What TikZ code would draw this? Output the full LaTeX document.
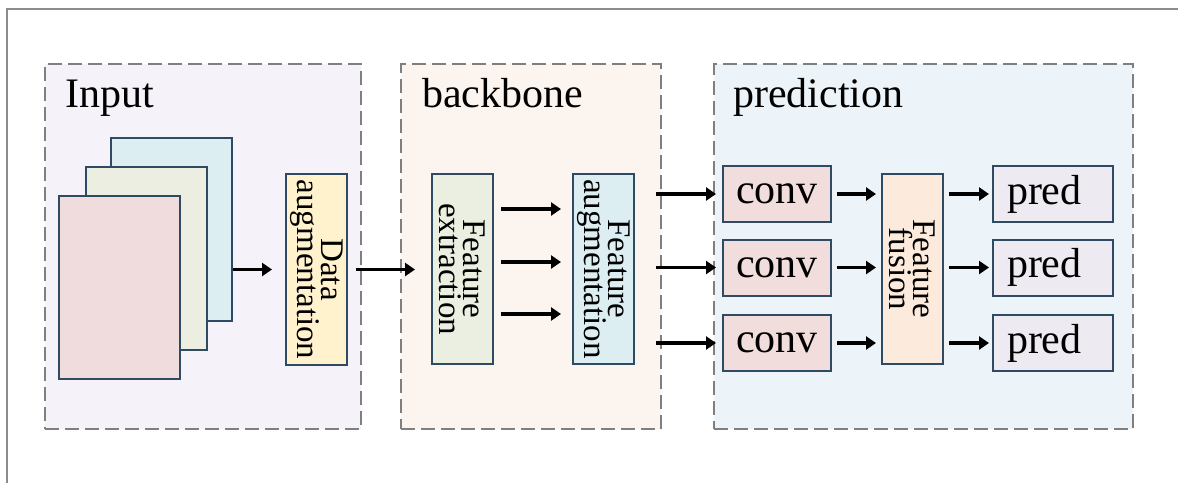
\documentclass[tikz,border=0pt]{standalone}
\usepackage{fontspec}
\setmainfont{Liberation Serif}
\usepackage{graphicx}
\usetikzlibrary{arrows.meta}

\definecolor{framegray}{HTML}{8C8C8C}
\definecolor{dashgray}{HTML}{7F7F7F}
\definecolor{edge}{HTML}{2F4B63}
\definecolor{inbg}{HTML}{F5F3F9}
\definecolor{bbbg}{HTML}{FCF4EF}
\definecolor{prbg}{HTML}{EDF4F9}
\definecolor{sheetblue}{HTML}{DCEEF2}
\definecolor{sheetgreen}{HTML}{EBEEE0}
\definecolor{sheetpink}{HTML}{F0DCDC}
\definecolor{dayellow}{HTML}{FFF2CC}
\definecolor{fegreen}{HTML}{EBEFE1}
\definecolor{fablue}{HTML}{DCEEF2}
\definecolor{ffpeach}{HTML}{FCEBDC}
\definecolor{convpink}{HTML}{F1DDDC}
\definecolor{predlav}{HTML}{EEEAF2}

% two-line label turned to read top to bottom
\newcommand{\sidetext}[2]{\rotatebox{-90}{\parbox{190pt}{\centering\fontsize{33}{24}\selectfont #1\\#2}}}

\begin{document}
\begin{tikzpicture}[x=1pt,y=-1pt,
  grp/.style={draw=dashgray, line width=2.3pt, dash pattern=on 14pt off 6pt, inner sep=0pt, minimum height=365pt},
  grplabel/.style={anchor=base west, inner sep=0pt, font=\fontsize{42}{50}\selectfont},
  sheet/.style={draw=edge, line width=2pt, minimum width=121pt, minimum height=183pt, inner sep=0pt},
  vblk/.style={draw=edge, line width=2pt, minimum width=61pt, minimum height=190pt, inner sep=0pt},
  cell/.style={draw=edge, line width=2pt, minimum height=56pt, inner sep=0pt, font=\fontsize{42}{50}\selectfont},
  convcell/.style={cell, fill=convpink, minimum width=108pt},
  predcell/.style={cell, fill=predlav, text width=92pt, inner xsep=14pt, align=left},
  arr/.style={-{Triangle[length=10pt,width=13pt]}, line width=3.3pt, black},
]
\useasboundingbox (0,0) rectangle (1178,483);
\fill[white] (0,0) rectangle (1178,483);
\draw[framegray, line width=2pt] (1178,9) -- (7,9) -- (7,483);

% stage panels
\node[grp, fill=inbg, minimum width=316pt] (gin) at (203,246.5) {};
\node[grp, fill=bbbg, minimum width=260pt] (gbb) at (531,246.5) {};
\node[grp, fill=prbg, minimum width=419pt] (gpr) at (923.5,246.5) {};
\node[grplabel] (lin) at (65,107) {Input};
\node[grplabel] (lbb) at (422,107) {backbone};
\node[grplabel] (lpr) at (733,107) {prediction};

% input image stack
\node[sheet, fill=sheetblue] (s3) at (171,229.5) {};
\node[sheet, fill=sheetgreen] (s2) at (146.5,258.5) {};
\node[sheet, fill=sheetpink] (s1) at (119.5,287.5) {};
\node[vblk, fill=dayellow, minimum height=191pt] (da) at (316.5,269.5) {\sidetext{Data}{augmentation}};

% backbone
\node[vblk, fill=fegreen] (fe) at (462.5,269) {\sidetext{Feature}{extraction}};
\node[vblk, fill=fablue] (fa) at (603.5,269) {\sidetext{Feature}{augmentation}};

% prediction head
\node[convcell] (c1) at (777,194) {conv};
\node[convcell] (c2) at (777,267.5) {conv};
\node[convcell] (c3) at (777,343) {conv};
\node[vblk, fill=ffpeach] (ff) at (912.5,269) {\sidetext{Feature}{fusion}};
\node[predcell] (p1) at (1053,194) {pred};
\node[predcell] (p2) at (1053,267.5) {pred};
\node[predcell] (p3) at (1053,343) {pred};

% connectors
\draw[arr, shorten >=13pt] (s3.east |- da.west) -- (da.west);
\draw[arr, shorten <=8pt, shorten >=16pt] (da.east) -- (fe.west |- da.east);
\coordinate (r1) at (0,209);
\coordinate (r2) at (0,262);
\coordinate (r3) at (0,314);
\foreach \r in {r1,r2,r3}
  \draw[arr, shorten <=7pt, shorten >=11pt] (fe.east |- \r) -- (fa.west |- \r);
\foreach \i in {1,2,3}{
  \draw[arr, shorten <=21pt, shorten >=6pt] (fa.east |- c\i.west) -- (c\i.west);
  \draw[arr, shorten <=5pt, shorten >=5pt] (c\i.east) -- (ff.west |- c\i.east);
  \draw[arr, shorten <=5pt, shorten >=3pt] (ff.east |- p\i.west) -- (p\i.west);
}
\end{tikzpicture}
\end{document}
